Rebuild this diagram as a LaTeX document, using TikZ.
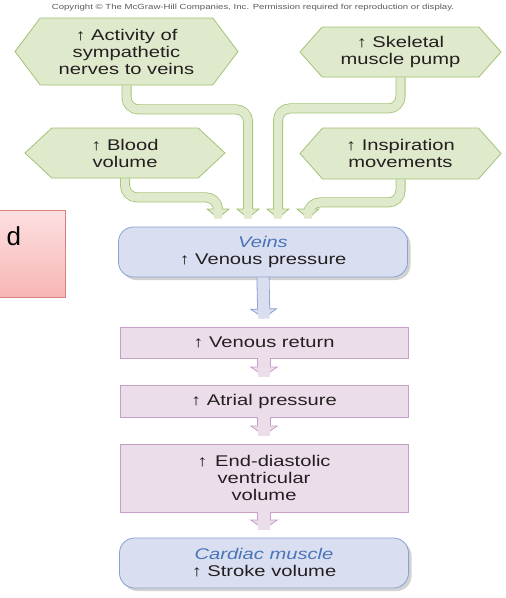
\documentclass[tikz,border=0pt]{standalone}
\usepackage{fontspec}
\setmainfont{Liberation Sans}[FakeStretch=1.3]
\newfontfamily\plainsans{Liberation Sans}
\usetikzlibrary{shapes.symbols,arrows.meta,shadows}
\definecolor{ink}{HTML}{231F20}
\definecolor{leaffill}{HTML}{DFE9CC}
\definecolor{leafline}{HTML}{A3C275}
\definecolor{veinfill}{HTML}{D9DFF0}
\definecolor{veinline}{HTML}{8AA0CF}
\definecolor{veintext}{HTML}{4A74B8}
\definecolor{stagefill}{HTML}{ECDDEB}
\definecolor{stageline}{HTML}{C59FC6}
\definecolor{slidetop}{HTML}{FDE0E0}
\definecolor{slidebot}{HTML}{F8B6B6}
\definecolor{slideline}{HTML}{D8807F}

\begin{document}
\begin{tikzpicture}[x=1pt,y=-1pt,text=ink,font=\fontsize{15.5}{17}\selectfont,
  hexa/.style={signal,signal to=west and east,draw=leafline,fill=leaffill,line width=.8pt,align=center,inner sep=0pt},
  veinbox/.style={rounded corners=15pt,draw=veinline,fill=veinfill,line width=.8pt,minimum width=289,minimum height=50,align=center,
    drop shadow={shadow xshift=3pt,shadow yshift=-3pt,opacity=.25,fill=black!70}},
  stagebox/.style={draw=stageline,fill=stagefill,line width=.8pt,minimum width=288,align=center},
  flowout/.style={draw=leafline,line width=10pt,rounded corners=12pt,-{Triangle[width=24pt,length=10pt,line width=.8pt,fill=leaffill]}},
  flowin/.style={draw=leaffill,line width=8.4pt,rounded corners=12pt,shorten >=8pt},
  veinout/.style={draw=veinline,line width=13pt,-{Triangle[width=28pt,length=10pt,line width=.8pt,fill=veinfill]}},
  veinin/.style={draw=veinfill,line width=11.4pt,shorten >=8pt},
  stageout/.style={draw=stageline,line width=14pt,-{Triangle[width=29pt,length=10pt,line width=.8pt,fill=stagefill]}},
  stagein/.style={draw=stagefill,line width=12.4pt,shorten >=8pt}]
\useasboundingbox (0,0) rectangle (506,598);
\node[text=black!65,font=\fontsize{7.4}{9}\selectfont] (copy) at (253,8) {Copyright \textcopyright{} The McGraw-Hill Companies, Inc. Permission required for reproduction or display.};
\node[draw=slideline,line width=.8pt,top color=slidetop,bottom color=slidebot,minimum width=90,minimum height=87] (slide) at (20,253.5) {};
\node[anchor=base west,font=\plainsans\fontsize{26}{30}\selectfont,text=black] (slidetext) at (3,245) {d};
\node[hexa,signal pointer angle=106,minimum width=223,minimum height=67] (act) at (126.5,51.5) {↑ Activity of\\sympathetic\\nerves to veins};
\node[hexa,signal pointer angle=86,minimum width=200,minimum height=50] (blood) at (125,153) {↑ Blood\\volume};
\node[hexa,signal pointer angle=97,minimum width=201,minimum height=50] (skel) at (400.5,52) {↑ Skeletal\\muscle pump};
\node[hexa,signal pointer angle=97,minimum width=201,minimum height=51] (insp) at (400.5,153.5) {↑ Inspiration\\movements};
\node[veinbox] (veins) at (263,252) {\textcolor{veintext}{\itshape Veins}\\↑ Venous pressure};
\node[stagebox,minimum height=31] (vret) at (264,342.5) {↑ Venous return};
\node[stagebox,minimum height=32] (atr) at (264,401) {↑ Atrial pressure};
\node[stagebox,minimum height=68] (edv) at (264,478) {↑\enspace End-diastolic\\ventricular\\volume};
\node[veinbox] (card) at (264,563) {\textcolor{veintext}{\itshape Cardiac muscle}\\↑ Stroke volume};
\draw[flowin,preaction={flowout}] (act.south) -- ++(0,24) -| ([xshift=-15]veins.north);
\draw[flowin,preaction={flowout}] (blood.south) -- ++(0,19) -| ([xshift=-45]veins.north);
\draw[flowin,preaction={flowout}] (skel.south) -- ++(0,31) -| ([xshift=15]veins.north);
\draw[flowin,preaction={flowout}] (insp.south) -- ++(0,23) -| ([xshift=45]veins.north);
\draw[veinin,preaction={veinout}] (veins.south) -- (vret.north);
\draw[stagein,preaction={stageout}] (vret.south) -- (atr.north);
\draw[stagein,preaction={stageout}] (atr.south) -- (edv.north);
\draw[stagein,preaction={stageout}] (edv.south) -- (card.north);
\end{tikzpicture}
\end{document}
